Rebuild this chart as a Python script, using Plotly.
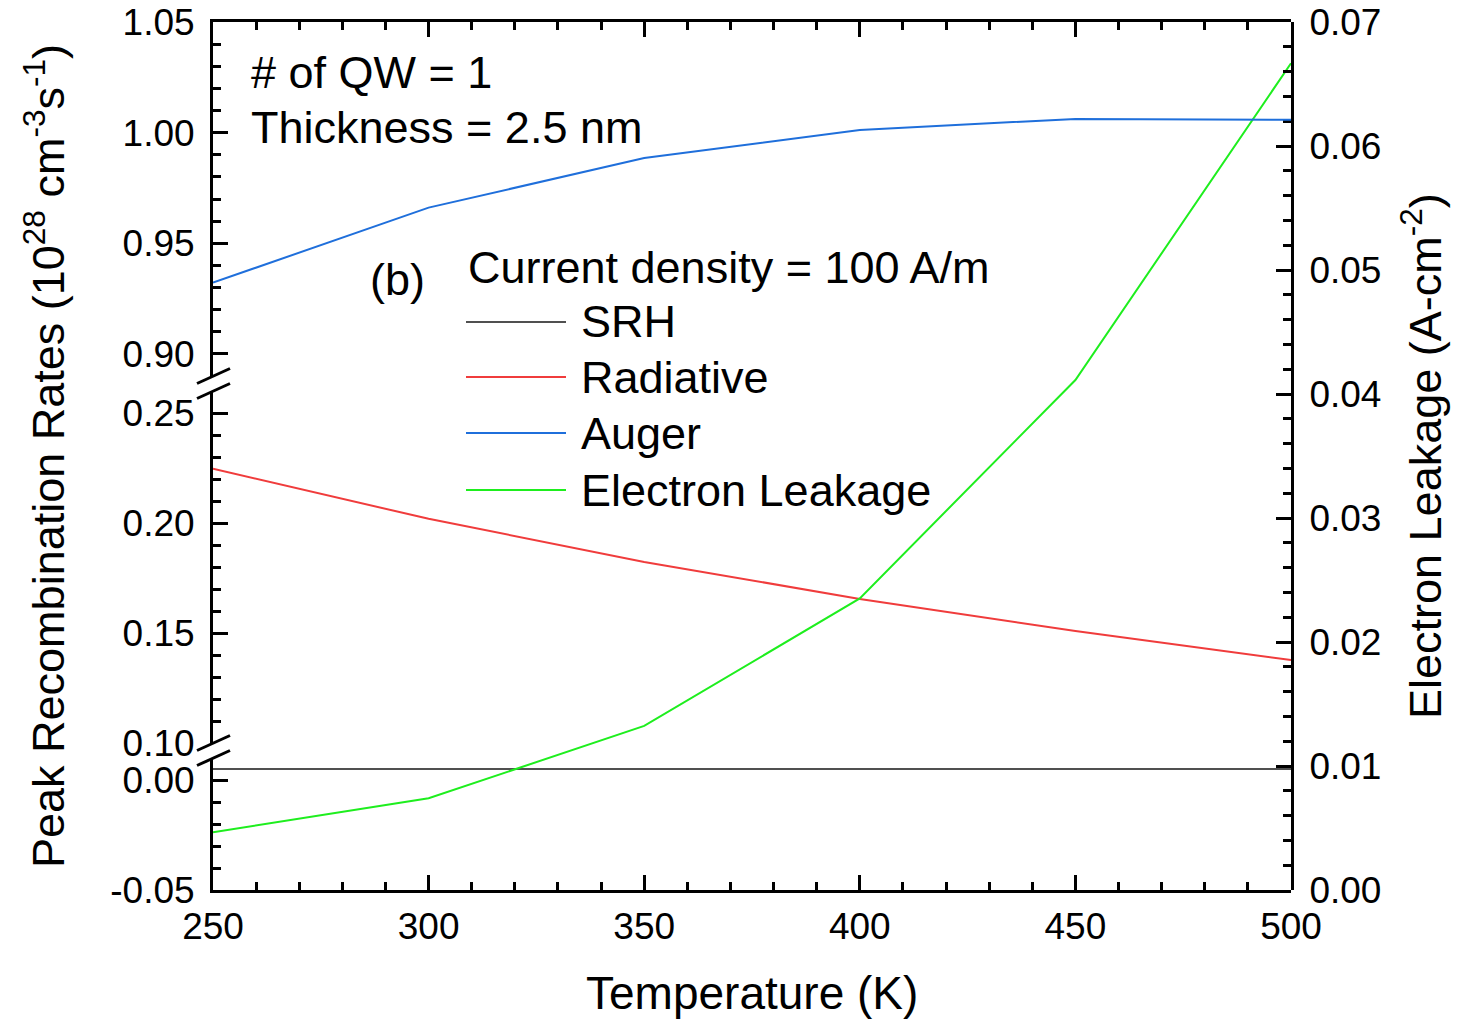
import plotly.graph_objects as go

# ---------------- data ----------------
temperature = [250, 300, 350, 400, 450, 500]
srh = [0.005, 0.005, 0.005, 0.005, 0.005, 0.005]
radiative = [0.2247, 0.2019, 0.1823, 0.1655, 0.1509, 0.1377]
auger = [0.9322, 0.9661, 0.9885, 1.0012, 1.0062, 1.0058]
electron_leakage = [0.00465, 0.0074, 0.01323, 0.02352, 0.04113, 0.06667]

x_ticks = [250, 300, 350, 400, 450, 500]
bottom_ticks = [-0.05, 0.00]
middle_ticks = [0.10, 0.15, 0.20, 0.25]
top_ticks = [0.90, 0.95, 1.00, 1.05]
right_ticks = [0.00, 0.01, 0.02, 0.03, 0.04, 0.05, 0.06, 0.07]

series_names = ["SRH", "Radiative", "Auger", "Electron Leakage"]
series_colors = ["#505050", "#F03C3C", "#1F6FDB", "#1EEE1E"]

# ---------------- layout geometry ----------------
W, H = 1469, 1019
L, R, T, B = 213, 1291, 22, 890
PW, PH = R - L, B - T
FONT = "Liberation Sans, Arial, Helvetica, sans-serif"


def px2x(px):
    return (px - L) / PW


def px2y(py):
    return (B - py) / PH


dom_bottom = [0.0, px2y(758)]
dom_middle = [px2y(743), px2y(391)]
dom_top = [px2y(376), 1.0]

tickfont = dict(family=FONT, size=37, color="black")
minor_common = dict(ticks="inside", ticklen=8, tickwidth=2.5, tickcolor="black", showgrid=False)
axis_common = dict(
    showline=True, linecolor="black", linewidth=3, ticks="inside", ticklen=15,
    tickwidth=3, tickcolor="black", showgrid=False, zeroline=False, tickfont=tickfont,
    fixedrange=True,
)

fig = go.Figure()

fig.add_trace(go.Scatter(x=temperature, y=srh, mode="lines", name=series_names[0],
                         line=dict(color=series_colors[0], width=2), xaxis="x", yaxis="y"))
fig.add_trace(go.Scatter(x=temperature, y=radiative, mode="lines", name=series_names[1],
                         line=dict(color=series_colors[1], width=2), xaxis="x", yaxis="y2"))
fig.add_trace(go.Scatter(x=temperature, y=auger, mode="lines", name=series_names[2],
                         line=dict(color=series_colors[2], width=2), xaxis="x2", yaxis="y3"))
fig.add_trace(go.Scatter(x=temperature, y=electron_leakage, mode="lines", name=series_names[3],
                         line=dict(color=series_colors[3], width=2), xaxis="x", yaxis="y4"))

fig.update_layout(
    width=W, height=H,
    margin=dict(l=L, r=W - R, t=T, b=H - B, autoexpand=False),
    paper_bgcolor="white", plot_bgcolor="rgba(0,0,0,0)",
    showlegend=False,
    font=dict(family=FONT, color="black"),
    xaxis=dict(axis_common, domain=[0, 1], range=[250, 500], anchor="y",
               tickmode="array", tickvals=x_ticks, ticktext=[str(v) for v in x_ticks],
               minor=dict(minor_common, tickmode="linear", tick0=0, dtick=10),
               ticklabelstandoff=2),
    xaxis2=dict(axis_common, domain=[0, 1], range=[250, 500], anchor="y3", side="top",
                tickmode="array", tickvals=x_ticks, showticklabels=False,
                minor=dict(minor_common, tickmode="linear", tick0=0, dtick=10)),
    yaxis=dict(axis_common, domain=dom_bottom, range=[-0.05, 0.01], anchor="x",
               tickmode="array", tickvals=bottom_ticks, ticktext=[f"{v:.2f}" for v in bottom_ticks],
               minor=dict(minor_common, tickmode="linear", tick0=0, dtick=0.01),
               ticklabelstandoff=8),
    yaxis2=dict(axis_common, domain=dom_middle, range=[0.10, 0.26], anchor="x",
                tickmode="array", tickvals=middle_ticks, ticktext=[f"{v:.2f}" for v in middle_ticks],
                minor=dict(minor_common, tickmode="linear", tick0=0, dtick=0.01),
                ticklabelstandoff=8),
    yaxis3=dict(axis_common, domain=dom_top, range=[0.89, 1.05], anchor="x2",
                tickmode="array", tickvals=top_ticks, ticktext=[f"{v:.2f}" for v in top_ticks],
                minor=dict(minor_common, tickmode="linear", tick0=0, dtick=0.01),
                ticklabelstandoff=8),
    yaxis4=dict(axis_common, domain=[0, 1], range=[0, 0.07], anchor="x", side="right",
                tickmode="array", tickvals=right_ticks, ticktext=[f"{v:.2f}" for v in right_ticks],
                minor=dict(minor_common, tickmode="linear", tick0=0, dtick=0.002),
                ticklabelstandoff=8),
)

shapes = []
# axis-break slashes on the left axis
for py in [376, 391, 743, 758]:
    shapes.append(dict(type="line", xref="paper", yref="paper",
                       x0=px2x(197), y0=px2y(py + 7.5), x1=px2x(230), y1=px2y(py - 7.5),
                       line=dict(color="black", width=3)))

# legend samples
legend_rows = [322, 377, 433, 490]
for name, color, py in zip(series_names, series_colors, legend_rows):
    shapes.append(dict(type="line", xref="paper", yref="paper",
                       x0=px2x(466), y0=px2y(py), x1=px2x(566), y1=px2y(py),
                       line=dict(color=color, width=2)))
fig.update_layout(shapes=shapes)

TXT = 45
annotations = [
    dict(text="# of QW = 1", x=px2x(249), y=px2y(72), xanchor="left", yanchor="middle"),
    dict(text="Thickness = 2.5 nm", x=px2x(249), y=px2y(128), xanchor="left", yanchor="middle"),
    dict(text="(b)", x=px2x(397), y=px2y(279), xanchor="center", yanchor="middle"),
    dict(text="Current density = 100 A/m", x=px2x(466), y=px2y(267), xanchor="left", yanchor="middle"),
    dict(text="Temperature (K)", x=0.5, y=px2y(993), xanchor="center", yanchor="middle",
         font_size=46),
    dict(text="Peak Recombination Rates (10<sup>28</sup> cm<sup>-3</sup>s<sup>-1</sup>)",
         x=px2x(45), y=0.5, xanchor="center", yanchor="middle", textangle=-90),
    dict(text="Electron Leakage (A-cm<sup>-2</sup>)",
         x=px2x(1422), y=0.5, xanchor="center", yanchor="middle", textangle=-90),
]
for name, py in zip(series_names, legend_rows):
    annotations.append(dict(text=name, x=px2x(579), y=px2y(py), xanchor="left", yanchor="middle"))

for a in annotations:
    size = a.pop("font_size", TXT)
    a.update(xref="paper", yref="paper", showarrow=False,
             font=dict(family=FONT, size=size, color="black"))
fig.update_layout(annotations=annotations)

fig.write_html("out.html")
